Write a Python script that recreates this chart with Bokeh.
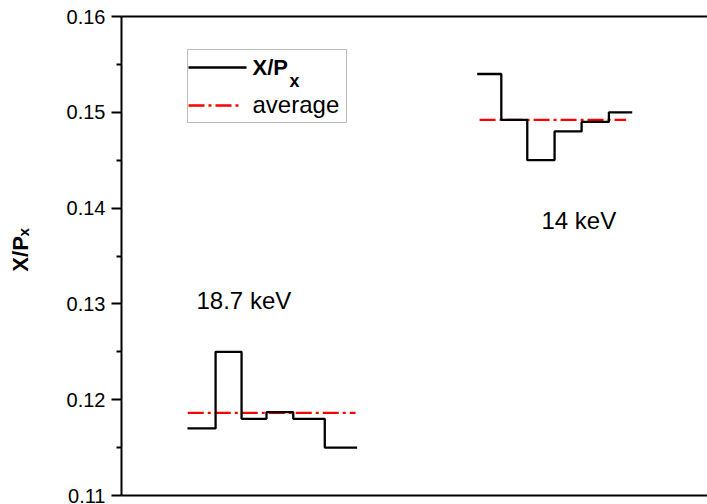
import numpy as np
from bokeh.plotting import figure
from bokeh.models import (Range1d, FixedTicker, PrintfTickFormatter, LinearAxis,
                          Label, BoxAnnotation, Arrow)
from bokeh.embed import file_html
from bokeh.resources import INLINE

# X/P_x ratio per step, two photon energies
group_labels = ["18.7 keV", "14 keV"]
ratio_187 = [0.117, 0.125, 0.118, 0.1187, 0.118, 0.115]
ratio_14 = [0.154, 0.1492, 0.145, 0.148, 0.149, 0.150]

# step boundaries along the horizontal (arbitrary position units)
edges_187 = [2.49, 3.55, 4.53, 5.47, 6.48, 7.67, 8.89]
edges_14 = [13.42, 14.33, 15.31, 16.34, 17.36, 18.39, 19.27]

# horizontal extent of each average line
avg_span_187 = [2.50, 8.83]
avg_span_14 = [13.51, 19.04]

y_ticks = [0.11, 0.12, 0.13, 0.14, 0.15, 0.16]
y_minor = [0.115, 0.125, 0.135, 0.145, 0.155]

FONT = "Liberation Sans"
LW = 2.3

p = figure(width=707, height=504, output_backend="svg", toolbar_location=None,
           x_range=Range1d(0, 22.11), y_range=Range1d(0.11, 0.16),
           min_border_left=121, min_border_right=0,
           min_border_top=16, min_border_bottom=9)
p.outline_line_color = None
p.grid.visible = False
p.background_fill_color = "white"
p.border_fill_color = "white"

# left value axis
ya = p.yaxis[0]
ya.ticker = FixedTicker(ticks=y_ticks, minor_ticks=y_minor)
ya.formatter = PrintfTickFormatter(format="%.2f")
ya.axis_line_width = 2
ya.major_tick_line_width = 2
ya.minor_tick_line_width = 2
ya.major_tick_out = 10
ya.major_tick_in = 0
ya.minor_tick_out = 5
ya.minor_tick_in = 0
ya.major_label_standoff = 6
ya.major_label_text_font = FONT
ya.major_label_text_font_size = "20px"
ya.major_label_text_color = "black"
ya.axis_label = "\u00a0\u00a0X/P\u2093"
ya.axis_label_text_font = FONT
ya.axis_label_text_font_style = "bold"
ya.axis_label_text_font_size = "22px"
ya.axis_label_text_color = "black"
ya.axis_label_standoff = 31

# plain frame lines at bottom and top
def frame_line(ax):
    ax.ticker = FixedTicker(ticks=[])
    ax.axis_line_width = 2
    ax.major_tick_out = 0
    ax.major_tick_in = 0
    ax.minor_tick_out = 0
    ax.minor_tick_in = 0
    ax.major_label_standoff = 0
    ax.major_label_text_font_size = "0px"

frame_line(p.xaxis[0])
top = LinearAxis()
frame_line(top)
p.add_layout(top, "above")

# step traces and their averages
for edges, vals, span in [(edges_187, ratio_187, avg_span_187),
                          (edges_14, ratio_14, avg_span_14)]:
    mean = float(np.mean(vals))
    p.line(x=span, y=[mean, mean], line_color="red", line_width=LW,
           line_dash="16 4 3 4")
    p.step(x=edges, y=vals + [vals[-1]], mode="after",
           line_color="black", line_width=LW)

# energy labels
p.add_layout(Label(x=75, y=195, x_units="screen", y_units="screen",
                   text=group_labels[0], text_font=FONT, text_font_size="24px",
                   text_color="black", text_baseline="alphabetic"))
p.add_layout(Label(x=420, y=275, x_units="screen", y_units="screen",
                   text=group_labels[1], text_font=FONT, text_font_size="24px",
                   text_color="black", text_baseline="alphabetic"))

# legend box
p.add_layout(BoxAnnotation(left=66, right=225, top=446, bottom=373,
                           left_units="screen", right_units="screen",
                           top_units="screen", bottom_units="screen",
                           fill_color=None, line_color="#222222", line_width=1))
p.add_layout(Arrow(end=None, x_start=67, y_start=428, x_end=125, y_end=428,
                   start_units="screen", end_units="screen",
                   line_color="black", line_width=LW))
p.add_layout(Arrow(end=None, x_start=67, y_start=390, x_end=120, y_end=390,
                   start_units="screen", end_units="screen",
                   line_color="red", line_width=LW, line_dash="16 4 3 4"))
p.add_layout(Label(x=131, y=428, x_units="screen", y_units="screen",
                   text="X/P", text_font=FONT, text_font_style="bold",
                   text_font_size="22px", text_color="black",
                   text_baseline="alphabetic"))
p.add_layout(Label(x=168, y=415, x_units="screen", y_units="screen",
                   text="x", text_font=FONT, text_font_style="bold",
                   text_font_size="18px", text_color="black",
                   text_baseline="alphabetic"))
p.add_layout(Label(x=131, y=391, x_units="screen", y_units="screen",
                   text="average", text_font=FONT, text_font_size="24px",
                   text_color="black", text_baseline="alphabetic"))

open("out.html", "w").write(file_html(p, INLINE))
